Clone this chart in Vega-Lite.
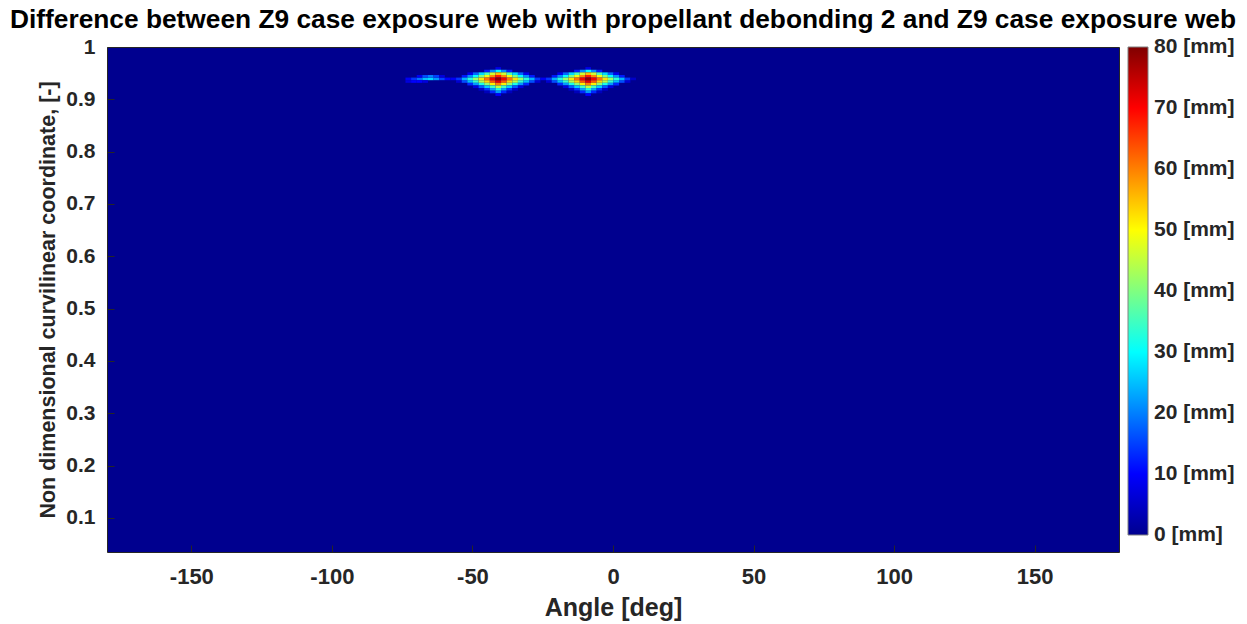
{
  "$schema": "https://vega.github.io/schema/vega-lite/v6.json",
  "width": 1012,
  "height": 505,
  "autosize": {"type": "none"},
  "padding": {"left": 107, "top": 47, "right": 128, "bottom": 72},
  "background": "white",
  "title": {
    "text": "Difference between Z9 case exposure web with propellant debonding 2 and Z9 case exposure web",
    "font": "Liberation Sans",
    "fontSize": 26.3,
    "fontWeight": "bold",
    "color": "#000000",
    "anchor": "middle",
    "dx": 10,
    "offset": 3
  },
  "data": {
    "values": [
      {"a": -41, "c": 0.96, "v": 8},
      {"a": -45, "c": 0.955, "v": 12}, {"a": -43, "c": 0.955, "v": 21}, {"a": -41, "c": 0.955, "v": 30}, {"a": -39, "c": 0.955, "v": 21}, {"a": -37, "c": 0.955, "v": 12},
      {"a": -51, "c": 0.95, "v": 8}, {"a": -49, "c": 0.95, "v": 18}, {"a": -47, "c": 0.95, "v": 27}, {"a": -45, "c": 0.95, "v": 36}, {"a": -43, "c": 0.95, "v": 46}, {"a": -41, "c": 0.95, "v": 55}, {"a": -39, "c": 0.95, "v": 46}, {"a": -37, "c": 0.95, "v": 36}, {"a": -35, "c": 0.95, "v": 27}, {"a": -33, "c": 0.95, "v": 18}, {"a": -31, "c": 0.95, "v": 8},
      {"a": -53, "c": 0.945, "v": 12}, {"a": -51, "c": 0.945, "v": 21}, {"a": -49, "c": 0.945, "v": 30}, {"a": -47, "c": 0.945, "v": 40}, {"a": -45, "c": 0.945, "v": 49}, {"a": -43, "c": 0.945, "v": 59}, {"a": -41, "c": 0.945, "v": 68}, {"a": -39, "c": 0.945, "v": 59}, {"a": -37, "c": 0.945, "v": 49}, {"a": -35, "c": 0.945, "v": 40}, {"a": -33, "c": 0.945, "v": 30}, {"a": -31, "c": 0.945, "v": 21}, {"a": -29, "c": 0.945, "v": 12},
      {"a": -55, "c": 0.935, "v": 6}, {"a": -53, "c": 0.935, "v": 16}, {"a": -51, "c": 0.935, "v": 25}, {"a": -49, "c": 0.935, "v": 34}, {"a": -47, "c": 0.935, "v": 44}, {"a": -45, "c": 0.935, "v": 53}, {"a": -43, "c": 0.935, "v": 63}, {"a": -41, "c": 0.935, "v": 72}, {"a": -39, "c": 0.935, "v": 63}, {"a": -37, "c": 0.935, "v": 53}, {"a": -35, "c": 0.935, "v": 44}, {"a": -33, "c": 0.935, "v": 34}, {"a": -31, "c": 0.935, "v": 25}, {"a": -29, "c": 0.935, "v": 16}, {"a": -27, "c": 0.935, "v": 6},
      {"a": -51, "c": 0.93, "v": 13}, {"a": -49, "c": 0.93, "v": 22}, {"a": -47, "c": 0.93, "v": 32}, {"a": -45, "c": 0.93, "v": 41}, {"a": -43, "c": 0.93, "v": 51}, {"a": -41, "c": 0.93, "v": 60}, {"a": -39, "c": 0.93, "v": 51}, {"a": -37, "c": 0.93, "v": 41}, {"a": -35, "c": 0.93, "v": 32}, {"a": -33, "c": 0.93, "v": 22}, {"a": -31, "c": 0.93, "v": 13},
      {"a": -49, "c": 0.925, "v": 7}, {"a": -47, "c": 0.925, "v": 17}, {"a": -45, "c": 0.925, "v": 26}, {"a": -43, "c": 0.925, "v": 35}, {"a": -41, "c": 0.925, "v": 45}, {"a": -39, "c": 0.925, "v": 35}, {"a": -37, "c": 0.925, "v": 26}, {"a": -35, "c": 0.925, "v": 17}, {"a": -33, "c": 0.925, "v": 7},
      {"a": -47, "c": 0.92, "v": 5}, {"a": -45, "c": 0.92, "v": 14}, {"a": -43, "c": 0.92, "v": 23}, {"a": -41, "c": 0.92, "v": 33}, {"a": -39, "c": 0.92, "v": 23}, {"a": -37, "c": 0.92, "v": 14}, {"a": -35, "c": 0.92, "v": 5},
      {"a": -45, "c": 0.915, "v": 4}, {"a": -43, "c": 0.915, "v": 13}, {"a": -41, "c": 0.915, "v": 22}, {"a": -39, "c": 0.915, "v": 13}, {"a": -37, "c": 0.915, "v": 4},
      {"a": -41, "c": 0.91, "v": 10},

      {"a": -9, "c": 0.96, "v": 8},
      {"a": -13, "c": 0.955, "v": 12}, {"a": -11, "c": 0.955, "v": 21}, {"a": -9, "c": 0.955, "v": 30}, {"a": -7, "c": 0.955, "v": 21}, {"a": -5, "c": 0.955, "v": 12},
      {"a": -19, "c": 0.95, "v": 8}, {"a": -17, "c": 0.95, "v": 18}, {"a": -15, "c": 0.95, "v": 27}, {"a": -13, "c": 0.95, "v": 36}, {"a": -11, "c": 0.95, "v": 46}, {"a": -9, "c": 0.95, "v": 55}, {"a": -7, "c": 0.95, "v": 46}, {"a": -5, "c": 0.95, "v": 36}, {"a": -3, "c": 0.95, "v": 27}, {"a": -1, "c": 0.95, "v": 18}, {"a": 1, "c": 0.95, "v": 8},
      {"a": -21, "c": 0.945, "v": 12}, {"a": -19, "c": 0.945, "v": 21}, {"a": -17, "c": 0.945, "v": 30}, {"a": -15, "c": 0.945, "v": 40}, {"a": -13, "c": 0.945, "v": 49}, {"a": -11, "c": 0.945, "v": 59}, {"a": -9, "c": 0.945, "v": 68}, {"a": -7, "c": 0.945, "v": 59}, {"a": -5, "c": 0.945, "v": 49}, {"a": -3, "c": 0.945, "v": 40}, {"a": -1, "c": 0.945, "v": 30}, {"a": 1, "c": 0.945, "v": 21}, {"a": 3, "c": 0.945, "v": 12},
      {"a": -23, "c": 0.935, "v": 6}, {"a": -21, "c": 0.935, "v": 16}, {"a": -19, "c": 0.935, "v": 25}, {"a": -17, "c": 0.935, "v": 34}, {"a": -15, "c": 0.935, "v": 44}, {"a": -13, "c": 0.935, "v": 53}, {"a": -11, "c": 0.935, "v": 63}, {"a": -9, "c": 0.935, "v": 72}, {"a": -7, "c": 0.935, "v": 63}, {"a": -5, "c": 0.935, "v": 53}, {"a": -3, "c": 0.935, "v": 44}, {"a": -1, "c": 0.935, "v": 34}, {"a": 1, "c": 0.935, "v": 25}, {"a": 3, "c": 0.935, "v": 16}, {"a": 5, "c": 0.935, "v": 6},
      {"a": -19, "c": 0.93, "v": 13}, {"a": -17, "c": 0.93, "v": 22}, {"a": -15, "c": 0.93, "v": 32}, {"a": -13, "c": 0.93, "v": 41}, {"a": -11, "c": 0.93, "v": 51}, {"a": -9, "c": 0.93, "v": 60}, {"a": -7, "c": 0.93, "v": 51}, {"a": -5, "c": 0.93, "v": 41}, {"a": -3, "c": 0.93, "v": 32}, {"a": -1, "c": 0.93, "v": 22}, {"a": 1, "c": 0.93, "v": 13},
      {"a": -17, "c": 0.925, "v": 7}, {"a": -15, "c": 0.925, "v": 17}, {"a": -13, "c": 0.925, "v": 26}, {"a": -11, "c": 0.925, "v": 35}, {"a": -9, "c": 0.925, "v": 45}, {"a": -7, "c": 0.925, "v": 35}, {"a": -5, "c": 0.925, "v": 26}, {"a": -3, "c": 0.925, "v": 17}, {"a": -1, "c": 0.925, "v": 7},
      {"a": -15, "c": 0.92, "v": 5}, {"a": -13, "c": 0.92, "v": 14}, {"a": -11, "c": 0.92, "v": 23}, {"a": -9, "c": 0.92, "v": 33}, {"a": -7, "c": 0.92, "v": 23}, {"a": -5, "c": 0.92, "v": 14}, {"a": -3, "c": 0.92, "v": 5},
      {"a": -13, "c": 0.915, "v": 4}, {"a": -11, "c": 0.915, "v": 13}, {"a": -9, "c": 0.915, "v": 22}, {"a": -7, "c": 0.915, "v": 13}, {"a": -5, "c": 0.915, "v": 4},
      {"a": -9, "c": 0.91, "v": 10},

      {"a": -73, "c": 0.94, "v": 9}, {"a": -71, "c": 0.94, "v": 14}, {"a": -69, "c": 0.94, "v": 19}, {"a": -67, "c": 0.94, "v": 25}, {"a": -65, "c": 0.94, "v": 27}, {"a": -63, "c": 0.94, "v": 22}, {"a": -61, "c": 0.94, "v": 15}, {"a": -59, "c": 0.94, "v": 10}, {"a": -57, "c": 0.94, "v": 9},
      {"a": -55, "c": 0.94, "v": 14}, {"a": -53, "c": 0.94, "v": 24}, {"a": -51, "c": 0.94, "v": 33}, {"a": -49, "c": 0.94, "v": 42}, {"a": -47, "c": 0.94, "v": 52}, {"a": -45, "c": 0.94, "v": 61}, {"a": -43, "c": 0.94, "v": 71}, {"a": -41, "c": 0.94, "v": 79}, {"a": -39, "c": 0.94, "v": 71}, {"a": -37, "c": 0.94, "v": 61}, {"a": -35, "c": 0.94, "v": 52}, {"a": -33, "c": 0.94, "v": 42}, {"a": -31, "c": 0.94, "v": 33}, {"a": -29, "c": 0.94, "v": 24}, {"a": -27, "c": 0.94, "v": 14},
      {"a": -25, "c": 0.94, "v": 9},
      {"a": -23, "c": 0.94, "v": 14}, {"a": -21, "c": 0.94, "v": 24}, {"a": -19, "c": 0.94, "v": 33}, {"a": -17, "c": 0.94, "v": 42}, {"a": -15, "c": 0.94, "v": 52}, {"a": -13, "c": 0.94, "v": 61}, {"a": -11, "c": 0.94, "v": 71}, {"a": -9, "c": 0.94, "v": 79}, {"a": -7, "c": 0.94, "v": 71}, {"a": -5, "c": 0.94, "v": 61}, {"a": -3, "c": 0.94, "v": 52}, {"a": -1, "c": 0.94, "v": 42}, {"a": 1, "c": 0.94, "v": 33}, {"a": 3, "c": 0.94, "v": 24}, {"a": 5, "c": 0.94, "v": 14}, {"a": 7, "c": 0.94, "v": 5},

      {"a": -69, "c": 0.945, "v": 9}, {"a": -67, "c": 0.945, "v": 16}, {"a": -65, "c": 0.945, "v": 20}, {"a": -63, "c": 0.945, "v": 15}, {"a": -61, "c": 0.945, "v": 7},
      {"a": -73, "c": 0.935, "v": 7}, {"a": -71, "c": 0.935, "v": 10}, {"a": -69, "c": 0.935, "v": 10}, {"a": -67, "c": 0.935, "v": 7}
    ]
  },
  "mark": {"type": "rect"},
  "encoding": {
    "x": {
      "field": "a",
      "type": "quantitative",
      "bin": {"extent": [-180, 180], "step": 2, "nice": false},
      "scale": {"domain": [-180, 180], "nice": false, "zero": false},
      "axis": {
        "title": "Angle [deg]",
        "values": [-150, -100, -50, 0, 50, 100, 150],
        "labelExpr": "toString(datum.value)",
        "grid": false,
        "domain": false,
        "ticks": true,
        "tickSize": -7,
        "tickColor": "#262626",
        "labelPadding": 21,
        "labelFont": "Liberation Sans",
        "labelFontWeight": "bold",
        "labelFontSize": 22,
        "labelColor": "#262626",
        "labelFlush": false,
        "titleFont": "Liberation Sans",
        "titleFontWeight": "bold",
        "titleFontSize": 25,
        "titleColor": "#262626",
        "titlePadding": 8
      }
    },
    "y": {
      "field": "c",
      "type": "quantitative",
      "bin": {"extent": [0.0025, 1.0025], "step": 0.005, "nice": false},
      "scale": {"domain": [0.035, 1], "nice": false, "zero": false},
      "axis": {
        "title": "Non dimensional curvilinear coordinate, [-]",
        "values": [0.1, 0.2, 0.3, 0.4, 0.5, 0.6, 0.7, 0.8, 0.9, 1],
        "labelExpr": "toString(datum.value)",
        "grid": false,
        "domain": false,
        "ticks": true,
        "tickSize": -7,
        "tickColor": "#262626",
        "labelPadding": 19,
        "labelFont": "Liberation Sans",
        "labelFontWeight": "bold",
        "labelFontSize": 21,
        "labelColor": "#262626",
        "labelFlush": false,
        "titleFont": "Liberation Sans",
        "titleFontWeight": "bold",
        "titleFontSize": 21.5,
        "titleColor": "#262626",
        "titlePadding": 6
      }
    },
    "color": {
      "field": "v",
      "type": "quantitative",
      "scale": {
        "type": "linear",
        "domain": [0, 80],
        "range": ["#00008F", "#0000FF", "#0080FF", "#00FFFF", "#80FF80", "#FFFF00", "#FF8000", "#FF0000", "#800000"],
        "interpolate": "rgb"
      },
      "legend": {
        "type": "gradient",
        "title": null,
        "orient": "none",
        "legendX": 1021,
        "legendY": 0,
        "direction": "vertical",
        "gradientLength": 488,
        "gradientThickness": 20,
        "gradientStrokeColor": "#808080",
        "gradientStrokeWidth": 1,
        "values": [0, 10, 20, 30, 40, 50, 60, 70, 80],
        "labelExpr": "datum.value + ' [mm]'",
        "labelFont": "Liberation Sans",
        "labelFontWeight": "bold",
        "labelFontSize": 21,
        "labelColor": "#262626",
        "labelOverlap": false,
        "labelOffset": 6,
        "padding": 0,
        "encode": {"labels": {"update": {"baseline": {"value": "middle"}}}}
      }
    }
  },
  "config": {
    "view": {"fill": "#00008F", "stroke": "#262626", "strokeWidth": 1},
    "rect": {"binSpacing": 0}
  }
}
